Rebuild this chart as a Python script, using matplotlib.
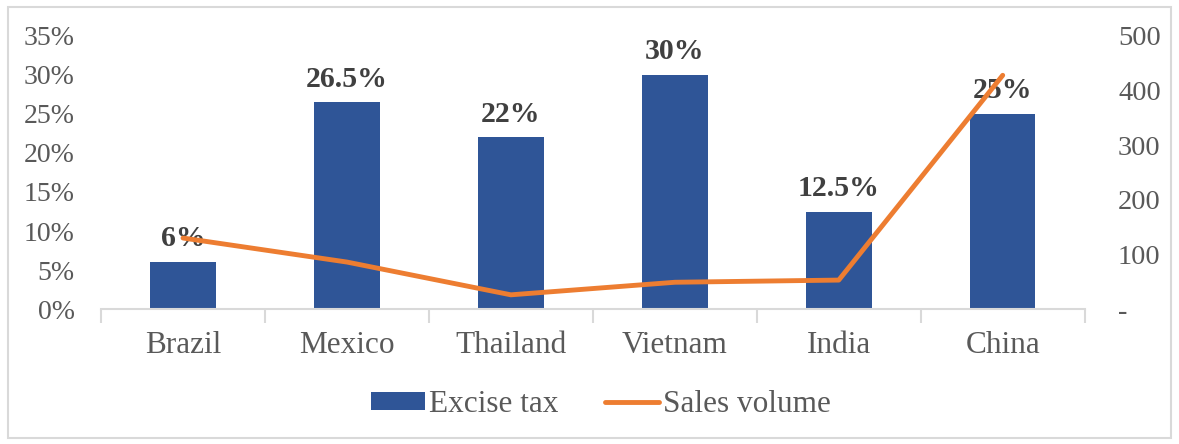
import matplotlib.pyplot as plt
import numpy as np
from matplotlib.patches import Rectangle

plt.rcParams['font.family'] = ['Liberation Serif', 'DejaVu Serif']

countries = ['Brazil', 'Mexico', 'Thailand', 'Vietnam', 'India', 'China']
excise_tax = [6, 26.5, 22, 30, 12.5, 25]
tax_labels = ['6%', '26.5%', '22%', '30%', '12.5%', '25%']
sales_volume = [130, 86, 26, 49, 53, 428]

bar_color = '#2F5597'
line_color = '#ED7D31'
text_gray = '#595959'
axis_gray = '#D9D9D9'

fig = plt.figure(figsize=(11.79, 4.44), dpi=100)
ax = fig.add_axes([0.0857, 0.304, 0.8343, 0.615])
x = np.arange(len(countries))

bars = ax.bar(x, excise_tax, width=0.4, color=bar_color, label='Excise tax', zorder=2)
for xi, v, lab in zip(x, excise_tax, tax_labels):
    ax.annotate(lab, (xi, v), xytext=(0, 7), textcoords='offset points',
                ha='center', va='bottom', fontsize=21.5, fontweight='bold', color='#404040')

ax.set_xlim(-0.5, len(countries) - 0.5)
ax.set_ylim(0, 35)
ax.set_yticks(np.arange(0, 36, 5))
ax.set_yticklabels([f'{t}%' for t in range(0, 36, 5)])
ax.set_xticks(x)
ax.set_xticklabels(countries)
ax.set_xticks(np.arange(-0.5, len(countries), 1), minor=True)
ax.tick_params(axis='x', which='major', length=0, pad=16, labelsize=22.5, labelcolor=text_gray)
ax.tick_params(axis='x', which='minor', length=10, width=1.5, color=axis_gray)
ax.tick_params(axis='y', length=0, labelsize=20, labelcolor=text_gray, pad=19)

for side in ['top', 'left', 'right']:
    ax.spines[side].set_visible(False)
ax.spines['bottom'].set_color(axis_gray)
ax.spines['bottom'].set_linewidth(1.5)

# secondary axis for sales volume
ax2 = ax.twinx()
line, = ax2.plot(x, sales_volume, color=line_color, linewidth=3.5,
                 solid_capstyle='round', label='Sales volume')
ax2.set_ylim(0, 500)
ax2.set_yticks(np.arange(0, 501, 100))
ax2.set_yticklabels(['-'] + [str(t) for t in range(100, 501, 100)])
ax2.tick_params(axis='y', length=0, labelsize=20.5, labelcolor=text_gray, pad=24)
for side in ['top', 'left', 'right', 'bottom']:
    ax2.spines[side].set_visible(False)

fig.legend([bars, line], ['Excise tax', 'Sales volume'], loc='center',
           bbox_to_anchor=(0.51, 0.088), ncol=2, frameon=False, fontsize=22.5,
           labelcolor=text_gray, handlelength=1.7, handleheight=0.5,
           handletextpad=0.15, columnspacing=1.5)

# chart border
fig.patches.append(Rectangle((0.007, 0.013), 0.986, 0.972, transform=fig.transFigure,
                             fill=False, edgecolor=axis_gray, linewidth=1.5))

fig.savefig('out.png', dpi=100)
